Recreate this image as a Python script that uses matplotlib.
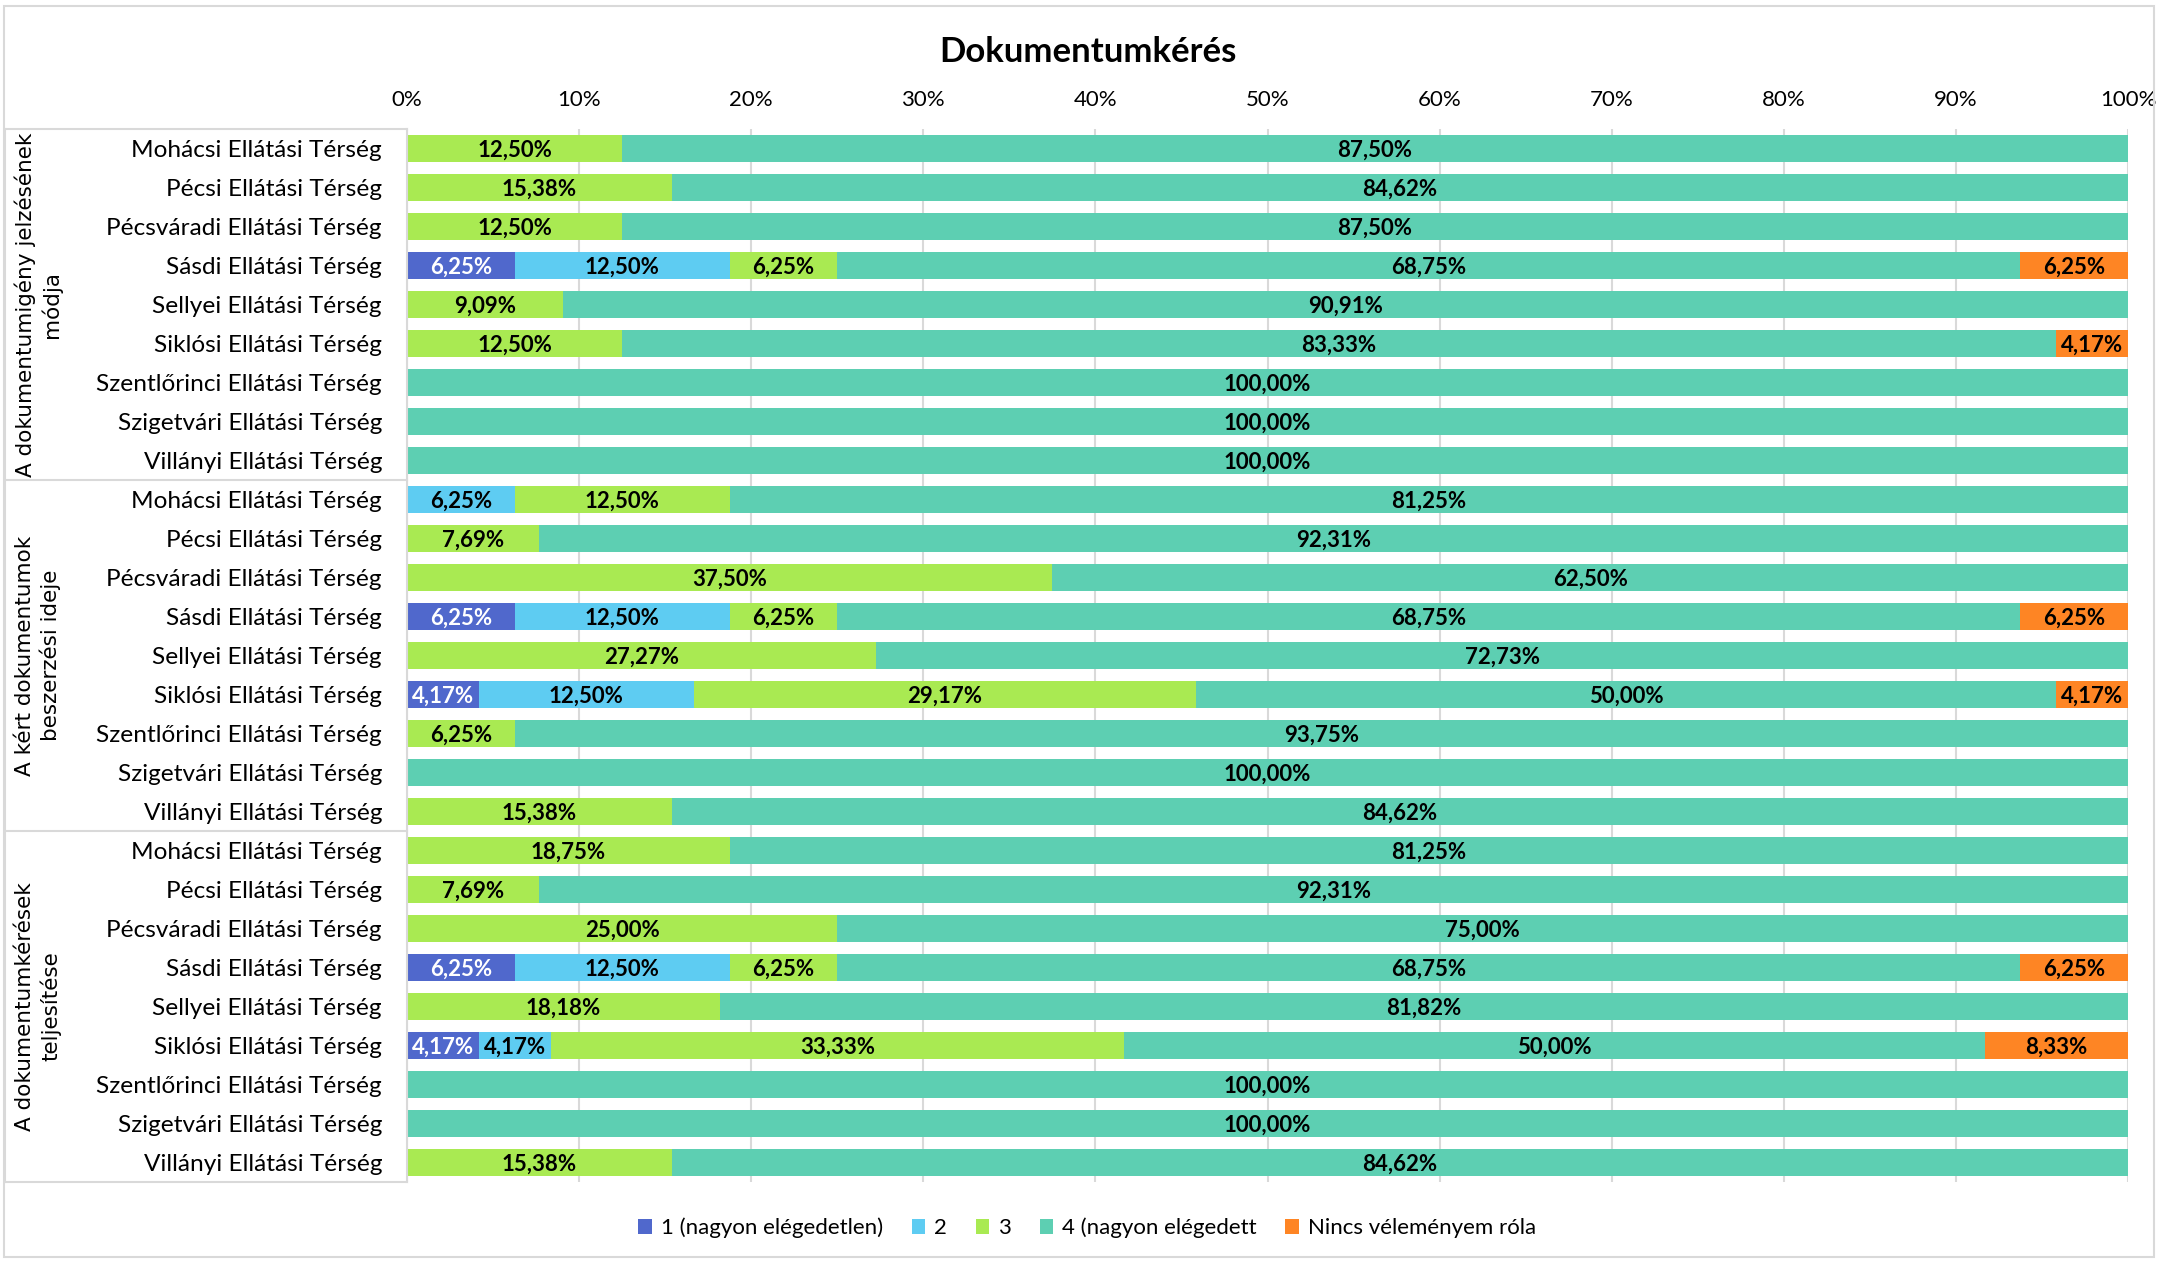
import matplotlib
matplotlib.use("Agg")
import matplotlib.pyplot as plt
import matplotlib.transforms as mtransforms
from matplotlib.patches import Rectangle
from matplotlib.lines import Line2D
import numpy as np

NARROW = "Lato"
WIDE = "DejaVu Sans"

title = "Dokumentumkérés"
groups = ["A dokumentumigény jelzésének\nmódja",
          "A kért dokumentumok\nbeszerzési ideje",
          "A dokumentumkérések\nteljesítése"]
regions = ["Mohácsi Ellátási Térség", "Pécsi Ellátási Térség", "Pécsváradi Ellátási Térség",
           "Sásdi Ellátási Térség", "Sellyei Ellátási Térség", "Siklósi Ellátási Térség",
           "Szentlőrinci Ellátási Térség", "Szigetvári Ellátási Térség", "Villányi Ellátási Térség"]
series = ["1 (nagyon elégedetlen)", "2", "3", "4 (nagyon elégedett", "Nincs véleményem róla"]
colors = ["#5068CC", "#5ECCF2", "#A9EA52", "#5DCFB2", "#FE8524"]
text_colors = ["white", "black", "black", "black", "black"]

# values per group, rows = regions
s1 = [[0, 0, 0, 6.25, 0, 0, 0, 0, 0],
      [0, 0, 0, 6.25, 0, 4.17, 0, 0, 0],
      [0, 0, 0, 6.25, 0, 4.17, 0, 0, 0]]
s2 = [[0, 0, 0, 12.50, 0, 0, 0, 0, 0],
      [6.25, 0, 0, 12.50, 0, 12.50, 0, 0, 0],
      [0, 0, 0, 12.50, 0, 4.17, 0, 0, 0]]
s3 = [[12.50, 15.38, 12.50, 6.25, 9.09, 12.50, 0, 0, 0],
      [12.50, 7.69, 37.50, 6.25, 27.27, 29.17, 6.25, 0, 15.38],
      [18.75, 7.69, 25.00, 6.25, 18.18, 33.33, 0, 0, 15.38]]
s4 = [[87.50, 84.62, 87.50, 68.75, 90.91, 83.33, 100, 100, 100],
      [81.25, 92.31, 62.50, 68.75, 72.73, 50.00, 93.75, 100, 84.62],
      [81.25, 92.31, 75.00, 68.75, 81.82, 50.00, 100, 100, 84.62]]
s5 = [[0, 0, 0, 6.25, 0, 4.17, 0, 0, 0],
      [0, 0, 0, 6.25, 0, 4.17, 0, 0, 0],
      [0, 0, 0, 6.25, 0, 8.33, 0, 0, 0]]
xticks = [0, 10, 20, 30, 40, 50, 60, 70, 80, 90, 100]

W, H = 2158, 1263
fig = plt.figure(figsize=(W / 100, H / 100), dpi=100)
ax_left, ax_right = 407 / W, 2128 / W
ax_top, ax_bot = 1 - 129 / H, 1 - 1182 / H
ax = fig.add_axes([ax_left, ax_bot, ax_right - ax_left, ax_top - ax_bot])

all_series = [np.array(s).ravel() for s in (s1, s2, s3, s4, s5)]
n = len(all_series[0])
y = np.arange(n)
left = np.zeros(n)
for k, vals in enumerate(all_series):
    ax.barh(y, vals, left=left, height=0.68, color=colors[k], zorder=3, label=series[k])
    for i in range(n):
        v = vals[i]
        if v > 0:
            lab = f"{v:.2f}".replace(".", ",") + "%"
            ax.text(left[i] + v / 2, y[i] + 0.04, lab, ha="center", va="center",
                    color=text_colors[k], fontsize=16, fontweight="bold",
                    family=NARROW, zorder=4)
    left = left + vals

ax.set_xlim(0, 100)
ax.set_ylim(n - 0.5, -0.5)
ax.set_xticks(xticks)
ax.set_xticklabels([f"{t}%" for t in xticks], family=NARROW, fontsize=16)
ax.xaxis.tick_top()
ax.tick_params(axis="x", length=0, pad=14)
ax.set_yticks(y)
ax.set_yticklabels(regions * 3, family=NARROW, fontsize=17.6)
ax.tick_params(axis="y", length=0, pad=18)
ax.grid(axis="x", color="#D9D9D9", linewidth=1.5, zorder=0)
for sp in ax.spines.values():
    sp.set_visible(False)

# table box on the left
trans = mtransforms.blended_transform_factory(fig.transFigure, ax.transData)
box_color = "#D9D9D9"
x0 = 5 / W
for yb in [-0.5, 8.5, 17.5, 26.5]:
    fig.add_artist(Line2D([x0, ax_left], [yb, yb], transform=trans, color=box_color, lw=1.5))
fig.add_artist(Line2D([x0, x0], [-0.5, 26.5], transform=trans, color=box_color, lw=1.5))
fig.add_artist(Line2D([ax_left, ax_left], [-0.5, 26.5], transform=trans, color=box_color, lw=1.5))

for g, name in enumerate(groups):
    fig.text(38 / W, g * 9 + 4, name, rotation=90, ha="center", va="center",
             transform=trans, family=WIDE, fontsize=15.5, multialignment="center",
             linespacing=1.25)

# outer border
fig.add_artist(Rectangle((4 / W, 6 / H), 1 - 8 / W, 1 - 12 / H, transform=fig.transFigure,
                         fill=False, edgecolor="#D9D9D9", lw=1.5))

fig.text(0.504, 1 - 52 / H, title, ha="center", va="center", fontsize=25,
         fontweight="bold", family=NARROW)

handles, labels = ax.get_legend_handles_labels()
leg = fig.legend(handles, labels, loc="center", bbox_to_anchor=(1087 / W, 1 - 1228 / H),
                 ncol=5, frameon=False, prop={"family": NARROW, "size": 16},
                 handlelength=0.6, handleheight=0.6, handletextpad=0.4, columnspacing=1.3)

fig.savefig("out.png", dpi=100)
